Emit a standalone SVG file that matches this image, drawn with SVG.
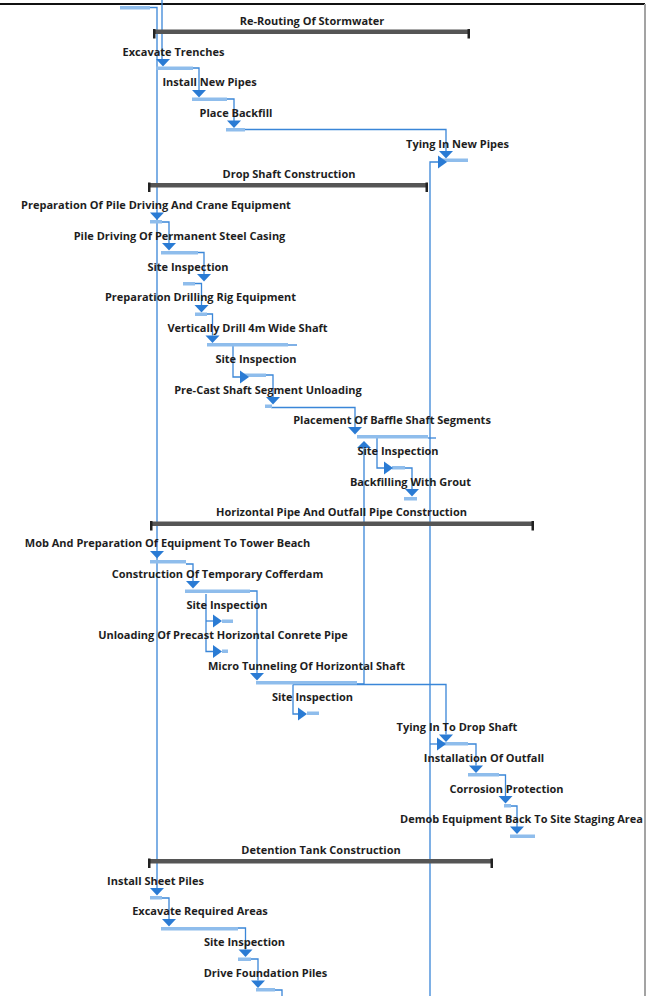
<svg xmlns="http://www.w3.org/2000/svg" xmlns:xlink="http://www.w3.org/1999/xlink" width="655" height="996" viewBox="0 0 655 996">
  <style>
    .lbl { font-family: "Open Sans", "Noto Sans", "Liberation Sans", sans-serif; font-weight: 700; font-size: 11px; fill: #1e1e1e; text-anchor: middle; }
    .bar { fill: #8fbdec; }
    .sum { fill: #555555; }
    .cap { fill: #222222; }
    .arr { fill: #2a7bd4; }
    .ln { fill: none; stroke: #3a86d8; stroke-width: 1.3; }
    .frame { stroke: #111111; stroke-width: 2; }
    .edge { stroke: #a3a3a3; stroke-width: 2; }
  </style>
  <defs>
    <!-- down-pointing task arrow, tip at origin -->
    <path id="dn" d="M-7,-7.5 L7,-7.5 L0,0 Z"/>
    <!-- right-pointing task arrow, tip at origin -->
    <path id="rt" d="M-9,-6.5 L0,0 L-9,6.5 Z"/>
    <!-- up-pointing task arrow, tip at origin -->
    <path id="up" d="M-7,7 L7,7 L0,0 Z"/>
  </defs>

  <rect width="655" height="996" fill="#ffffff"/>

  <!-- page frame -->
  <line class="frame" x1="0" y1="4" x2="645" y2="4"/>
  <line class="edge" x1="645" y1="4" x2="645" y2="996"/>

  <!-- connectors -->
  <g id="connectors">
    <path class="ln" d="M150,7.5 H157 V888"/>
    <path class="ln" d="M162,0 V59"/>
    <path class="ln" d="M193,68 H199 V90"/>
    <path class="ln" d="M227,99 H234 V121"/>
    <path class="ln" d="M245,129.5 H446 V151.5"/>
    <path class="ln" d="M430,996 V162 H438"/>
    <path class="ln" d="M430,744 H437"/>
    <path class="ln" d="M162,222 H169 V243.5"/>
    <path class="ln" d="M198,252.5 H204 V274"/>
    <path class="ln" d="M195,283.5 H201.5 V305"/>
    <path class="ln" d="M207,314 H212.5 V335.5"/>
    <path class="ln" d="M288,345 H297"/>
    <path class="ln" d="M233,346 V377 H240"/>
    <path class="ln" d="M266,375 H273 V397"/>
    <path class="ln" d="M271,407.5 H355 V427.5"/>
    <path class="ln" d="M428,438 H436"/>
    <path class="ln" d="M377,438 V468 H384"/>
    <path class="ln" d="M404,468 H412 V489"/>
    <path class="ln" d="M357,684 H364 V448"/>
    <path class="ln" d="M186,564 H193 V581"/>
    <path class="ln" d="M206,594 V651.5 H213"/>
    <path class="ln" d="M206,621 H213"/>
    <path class="ln" d="M250,591 H257 V673"/>
    <path class="ln" d="M293,684.5 V714 H298"/>
    <path class="ln" d="M293,684.5 H446 V734.5"/>
    <path class="ln" d="M468,744 H476 V765.5"/>
    <path class="ln" d="M499,775 H505.5 V796"/>
    <path class="ln" d="M511,806 H517 V827"/>
    <path class="ln" d="M162,898 H169 V919"/>
    <path class="ln" d="M238,928 H245.5 V949.5"/>
    <path class="ln" d="M251,959 H258 V980.5"/>
    <path class="ln" d="M275,990 H282 V996"/>
  </g>

  <!-- task carried over from the previous page -->
  <g id="task-prev">
    <rect class="bar" x="120" y="6" width="30" height="3.5"/>
  </g>

  <!-- Re-Routing Of Stormwater -->
  <g id="sum-rerouting">
    <text class="lbl" x="312" y="24.5">Re-Routing Of Stormwater</text>
    <rect class="sum" x="153" y="29.5" width="317" height="4.5"/>
    <rect class="cap" x="153" y="29" width="2.5" height="9.5"/>
    <rect class="cap" x="467.5" y="29" width="2.5" height="9.5"/>
  </g>
  <g id="task-excavate-trenches">
    <text class="lbl" x="173.5" y="55.5">Excavate Trenches</text>
    <use href="#dn" class="arr" x="163" y="66.5"/>
    <rect class="bar" x="156" y="66.5" width="37" height="3.5"/>
  </g>
  <g id="task-install-pipes">
    <text class="lbl" x="209.5" y="86">Install New Pipes</text>
    <use href="#dn" class="arr" x="199" y="97.5"/>
    <rect class="bar" x="192" y="97.5" width="35" height="3.5"/>
  </g>
  <g id="task-place-backfill">
    <text class="lbl" x="236" y="117">Place Backfill</text>
    <use href="#dn" class="arr" x="234" y="128"/>
    <rect class="bar" x="226" y="128" width="19" height="3.5"/>
  </g>
  <g id="task-tying-pipes">
    <text class="lbl" x="457.5" y="147.5">Tying In New Pipes</text>
    <rect class="bar" x="442" y="158.5" width="26" height="3.5"/>
    <use href="#dn" class="arr" x="446" y="158.5"/>
    <use href="#rt" class="arr" x="447" y="162"/>
  </g>

  <!-- Drop Shaft Construction -->
  <g id="sum-drop-shaft">
    <text class="lbl" x="289" y="178">Drop Shaft Construction</text>
    <rect class="sum" x="148" y="183" width="280" height="4.5"/>
    <rect class="cap" x="148" y="182.5" width="2.5" height="9.5"/>
    <rect class="cap" x="425.5" y="182.5" width="2.5" height="9.5"/>
  </g>
  <g id="task-prep-pile">
    <text class="lbl" x="156" y="209">Preparation Of Pile Driving And Crane Equipment</text>
    <use href="#dn" class="arr" x="157" y="220"/>
    <rect class="bar" x="150" y="220" width="12" height="3.5"/>
  </g>
  <g id="task-pile-driving">
    <text class="lbl" x="179.5" y="240">Pile Driving Of Permanent Steel Casing</text>
    <use href="#dn" class="arr" x="169" y="250.5"/>
    <rect class="bar" x="161" y="251" width="37" height="3.5"/>
  </g>
  <g id="task-site-inspection-1">
    <text class="lbl" x="188" y="270.5">Site Inspection</text>
    <use href="#dn" class="arr" x="204" y="281.5"/>
    <rect class="bar" x="183" y="282" width="12" height="3.5"/>
  </g>
  <g id="task-prep-drilling">
    <text class="lbl" x="200.5" y="301">Preparation Drilling Rig Equipment</text>
    <use href="#dn" class="arr" x="201.5" y="312.5"/>
    <rect class="bar" x="195" y="312.5" width="12" height="3.5"/>
  </g>
  <g id="task-drill-shaft">
    <text class="lbl" x="247.5" y="332">Vertically Drill 4m Wide Shaft</text>
    <use href="#dn" class="arr" x="212.5" y="343"/>
    <rect class="bar" x="207" y="343" width="81" height="3.5"/>
  </g>
  <g id="task-site-inspection-2">
    <text class="lbl" x="256" y="362.5">Site Inspection</text>
    <rect class="bar" x="242" y="373.5" width="24" height="3.5"/>
    <use href="#rt" class="arr" x="249" y="377"/>
  </g>
  <g id="task-precast-unloading">
    <text class="lbl" x="268" y="393.5">Pre-Cast Shaft Segment Unloading</text>
    <use href="#dn" class="arr" x="273" y="404.5"/>
    <rect class="bar" x="265" y="404.5" width="7" height="3.5"/>
  </g>
  <g id="task-baffle-segments">
    <text class="lbl" x="392" y="424">Placement Of Baffle Shaft Segments</text>
    <use href="#dn" class="arr" x="355" y="434.5"/>
    <rect class="bar" x="357" y="435" width="71" height="3.5"/>
    <use href="#up" class="arr" x="364" y="441"/>
  </g>
  <g id="task-site-inspection-3">
    <text class="lbl" x="398" y="454.5">Site Inspection</text>
    <rect class="bar" x="392" y="466" width="13" height="3.5"/>
    <use href="#rt" class="arr" x="393" y="468"/>
  </g>
  <g id="task-backfilling">
    <text class="lbl" x="410.5" y="485.5">Backfilling With Grout</text>
    <use href="#dn" class="arr" x="412" y="496.5"/>
    <rect class="bar" x="404" y="497" width="13" height="3.5"/>
  </g>

  <!-- Horizontal Pipe And Outfall Pipe Construction -->
  <g id="sum-horizontal-pipe">
    <text class="lbl" x="341.5" y="516">Horizontal Pipe And Outfall Pipe Construction</text>
    <rect class="sum" x="150" y="521.5" width="384" height="4.5"/>
    <rect class="cap" x="150" y="521" width="2.5" height="9.5"/>
    <rect class="cap" x="531.5" y="521" width="2.5" height="9.5"/>
  </g>
  <g id="task-mob-equipment">
    <text class="lbl" x="167.5" y="547">Mob And Preparation Of Equipment To Tower Beach</text>
    <use href="#dn" class="arr" x="157" y="558.5"/>
    <rect class="bar" x="150" y="560" width="36" height="3.5"/>
  </g>
  <g id="task-cofferdam">
    <text class="lbl" x="217.5" y="578">Construction Of Temporary Cofferdam</text>
    <use href="#dn" class="arr" x="193" y="588.5"/>
    <rect class="bar" x="185" y="589.5" width="65" height="3.5"/>
  </g>
  <g id="task-site-inspection-4">
    <text class="lbl" x="227" y="608.5">Site Inspection</text>
    <rect class="bar" x="222" y="619.5" width="11" height="3.5"/>
    <use href="#rt" class="arr" x="222" y="621"/>
  </g>
  <g id="task-unloading-pipe">
    <text class="lbl" x="223" y="639">Unloading Of Precast Horizontal Conrete Pipe</text>
    <rect class="bar" x="222" y="649.5" width="6" height="3.5"/>
    <use href="#rt" class="arr" x="222" y="651.5"/>
  </g>
  <g id="task-micro-tunneling">
    <text class="lbl" x="306.5" y="669.5">Micro Tunneling Of Horizontal Shaft</text>
    <use href="#dn" class="arr" x="257" y="680.5"/>
    <rect class="bar" x="256" y="681" width="101" height="3.5"/>
  </g>
  <g id="task-site-inspection-5">
    <text class="lbl" x="312.5" y="700.5">Site Inspection</text>
    <rect class="bar" x="307" y="711.5" width="12" height="3.5"/>
    <use href="#rt" class="arr" x="307" y="714"/>
  </g>
  <g id="task-tying-drop-shaft">
    <text class="lbl" x="457" y="731">Tying In To Drop Shaft</text>
    <rect class="bar" x="442" y="742" width="26" height="3.5"/>
    <use href="#dn" class="arr" x="446" y="742"/>
    <use href="#rt" class="arr" x="446" y="744"/>
  </g>
  <g id="task-outfall">
    <text class="lbl" x="484" y="762">Installation Of Outfall</text>
    <use href="#dn" class="arr" x="476" y="773"/>
    <rect class="bar" x="468" y="773" width="31" height="3.5"/>
  </g>
  <g id="task-corrosion">
    <text class="lbl" x="506.5" y="792.5">Corrosion Protection</text>
    <use href="#dn" class="arr" x="505.5" y="803.5"/>
    <rect class="bar" x="504" y="804" width="7" height="3.5"/>
  </g>
  <g id="task-demob">
    <text class="lbl" x="521.5" y="823">Demob Equipment Back To Site Staging Area</text>
    <use href="#dn" class="arr" x="517" y="834"/>
    <rect class="bar" x="510" y="834.5" width="25" height="3.5"/>
  </g>

  <!-- Detention Tank Construction -->
  <g id="sum-detention-tank">
    <text class="lbl" x="321" y="854">Detention Tank Construction</text>
    <rect class="sum" x="148" y="859" width="345" height="4.5"/>
    <rect class="cap" x="148" y="858.5" width="2.5" height="9.5"/>
    <rect class="cap" x="490.5" y="858.5" width="2.5" height="9.5"/>
  </g>
  <g id="task-sheet-piles">
    <text class="lbl" x="155.5" y="884.5">Install Sheet Piles</text>
    <use href="#dn" class="arr" x="157" y="895.5"/>
    <rect class="bar" x="150" y="896" width="12" height="3.5"/>
  </g>
  <g id="task-excavate-areas">
    <text class="lbl" x="200" y="915">Excavate Required Areas</text>
    <use href="#dn" class="arr" x="169" y="926.5"/>
    <rect class="bar" x="161" y="927" width="77" height="3.5"/>
  </g>
  <g id="task-site-inspection-6">
    <text class="lbl" x="244.5" y="946">Site Inspection</text>
    <use href="#dn" class="arr" x="245.5" y="957"/>
    <rect class="bar" x="238" y="957.5" width="13" height="3.5"/>
  </g>
  <g id="task-foundation-piles">
    <text class="lbl" x="265.5" y="976.5">Drive Foundation Piles</text>
    <use href="#dn" class="arr" x="258" y="988"/>
    <rect class="bar" x="256" y="988" width="19" height="3.5"/>
  </g>
</svg>
